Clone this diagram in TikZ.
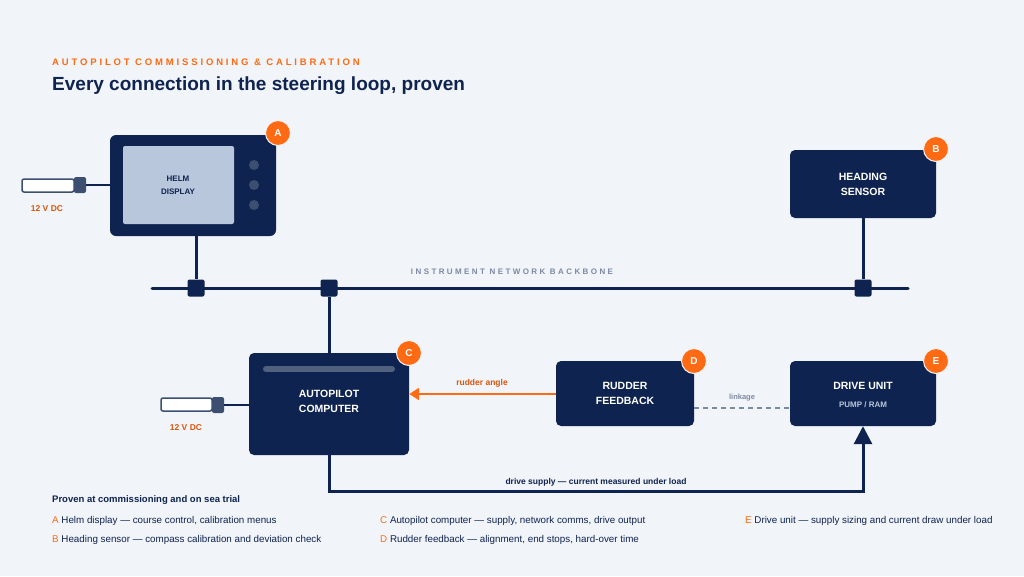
\documentclass[tikz,border=0pt]{standalone}
\usepackage{fontspec}
\setmainfont{Liberation Sans}
\newfontfamily\spaced[LetterSpace=30]{Liberation Sans}
\usetikzlibrary{arrows.meta}
\definecolor{navy}{HTML}{0F2350}
\definecolor{accent}{HTML}{FF6A13}
\definecolor{accdark}{HTML}{D9560F}
\definecolor{paper}{HTML}{F1F4F9}
\definecolor{screen}{HTML}{B8C7DC}
\definecolor{slate}{HTML}{3D4F70}
\definecolor{muted}{HTML}{7D8AA3}
\begin{document}
\begin{tikzpicture}[x=1pt,y=-1pt]
    \tikzstyle{box}=[draw=none,fill=navy,rounded corners=5pt,inner sep=0pt]
    \tikzstyle{boxtext}=[text=white,font=\bfseries\fontsize{10.5}{15}\selectfont,align=center]
    \tikzstyle{badge}=[circle,fill=accent,draw=paper,line width=1pt,minimum size=25pt,inner sep=0pt,text=white,font=\bfseries\fontsize{10}{10}\selectfont]
    \tikzstyle{wire}=[draw=navy,line width=3pt]
    \tikzstyle{junction}=[fill=navy,rounded corners=2pt,minimum size=17pt,inner sep=0pt]
    \tikzstyle{plug}=[draw=slate,fill=white,rounded corners=2pt,line width=1.5pt]
    \tikzstyle{plughead}=[fill=slate,rounded corners=2pt]
    \tikzstyle{small}=[font=\bfseries\fontsize{8.5}{10}\selectfont]
    \tikzstyle{legend}=[anchor=west,inner sep=0pt,font=\fontsize{9.8}{11}\selectfont,text=navy]

    \fill[paper] (0,0) rectangle (1024,576);
    \useasboundingbox (0,0) rectangle (1024,576);

    % heading
    \node[anchor=west,inner sep=0pt,text=accent,font=\spaced\bfseries\fontsize{9.5}{11}\selectfont] (kicker) at (52,62)
        {AUTOPILOT COMMISSIONING \& CALIBRATION};
    \node[anchor=west,inner sep=0pt,text=navy,font=\bfseries\fontsize{19}{22}\selectfont] (title) at (52,86)
        {Every connection in the steering loop, proven};

    % helm display
    \fill[navy,rounded corners=6pt] (110,135) rectangle (276,236);
    \fill[screen,rounded corners=2pt] (123,146) rectangle (234,224);
    \node[text=navy,font=\bfseries\fontsize{8}{13}\selectfont,align=center] (helm) at (178,185) {HELM\\DISPLAY};
    \foreach \yy in {165,185,205}
        \fill[slate] (254,\yy) circle (5);
    \coordinate (helmS) at (196,236);
    \coordinate (helmW) at (110,185);
    \node[badge] (bA) at (278,133) {A};

    % heading sensor
    \node[box,minimum width=146pt,minimum height=68pt] (sensor) at (863,184) {};
    \node[boxtext] at (sensor) {HEADING\\SENSOR};
    \node[badge] (bB) at (936,149) {B};

    % autopilot computer
    \node[box,minimum width=160pt,minimum height=102pt] (computer) at (329,404) {};
    \draw[slate!90,line width=6pt,line cap=round] (266,369) -- (392,369);
    \node[boxtext] at (329,401) {AUTOPILOT\\COMPUTER};
    \node[badge] (bC) at (409,353) {C};

    % rudder feedback
    \node[box,minimum width=138pt,minimum height=65pt] (feedback) at (625,393.5) {};
    \node[boxtext] at (feedback) {RUDDER\\FEEDBACK};
    \node[badge] (bD) at (694,361) {D};

    % drive unit
    \node[box,minimum width=146pt,minimum height=65pt] (drive) at (863,393.5) {};
    \node[boxtext] at (863,386) {DRIVE UNIT};
    \node[text=screen,font=\bfseries\fontsize{8}{10}\selectfont] at (863,405) {PUMP / RAM};
    \node[badge] (bE) at (936,361) {E};

    % backbone
    \coordinate (busW) at (152,288);
    \coordinate (busE) at (908,288);
    \draw[wire,line cap=round] (busW) -- (busE);
    \node[text=muted,font=\spaced\bfseries\fontsize{8}{10}\selectfont] (buslabel) at (512,272) {INSTRUMENT NETWORK BACKBONE};
    \node[junction] (j1) at (196,288) {};
    \node[junction] (j2) at (329,288) {};
    \node[junction] (j3) at (863,288) {};
    \draw[wire] (helmS) -- (j1);
    \draw[wire] (j2) -- (computer.north);
    \draw[wire] (j3) -- (sensor.south);

    % power plugs
    \draw[plug] (22,179) rectangle (74,192);
    \node[plughead,minimum width=12pt,minimum height=16pt,inner sep=0pt] (plugA) at (80,185) {};
    \draw[wire,line width=2pt] (plugA) -- (helmW);
    \node[text=accdark,small] at (47,209) {12 V DC};
    \draw[plug] (161,398) rectangle (212,411);
    \node[plughead,minimum width=12pt,minimum height=16pt,inner sep=0pt] (plugC) at (218,405) {};
    \draw[wire,line width=2pt] (plugC) -- (computer.west |- plugC);
    \node[text=accdark,small] at (186,428) {12 V DC};

    % signals
    \draw[draw=accent,line width=2.5pt,-{Triangle[length=10pt,width=12pt]}] (feedback.west |- 0,394) -- (computer.east |- 0,394);
    \node[text=accdark,small] at (482,383) {rudder angle};
    \draw[draw=muted,line width=2.5pt,dash pattern=on 5pt off 4pt] (feedback.east |- 0,408) -- (drive.west |- 0,408);
    \node[text=muted,font=\bfseries\fontsize{7.5}{9}\selectfont] at (742,398) {linkage};
    \coordinate (supplyL) at (329,491);
    \coordinate (supplyR) at (863,491);
    \draw[wire,-{Triangle[length=18pt,width=18pt]}] (computer.south) -- (supplyL) -- (supplyR) -- (drive.south);
    \node[text=navy,small] at (596,482) {drive supply — current measured under load};

    % legend
    \node[anchor=west,inner sep=0pt,text=navy,font=\bfseries\fontsize{9.5}{11}\selectfont] (lhead) at (52,500) {Proven at commissioning and on sea trial};
    \node[legend] (lA) at (52,521) {\textcolor{accent}{A} Helm display — course control, calibration menus};
    \node[legend] (lB) at (52,540) {\textcolor{accent}{B} Heading sensor — compass calibration and deviation check};
    \node[legend] (lC) at (380,521) {\textcolor{accent}{C} Autopilot computer — supply, network comms, drive output};
    \node[legend] (lD) at (380,540) {\textcolor{accent}{D} Rudder feedback — alignment, end stops, hard-over time};
    \node[legend] (lE) at (745,521) {\textcolor{accent}{E} Drive unit — supply sizing and current draw under load};
\end{tikzpicture}
\end{document}
